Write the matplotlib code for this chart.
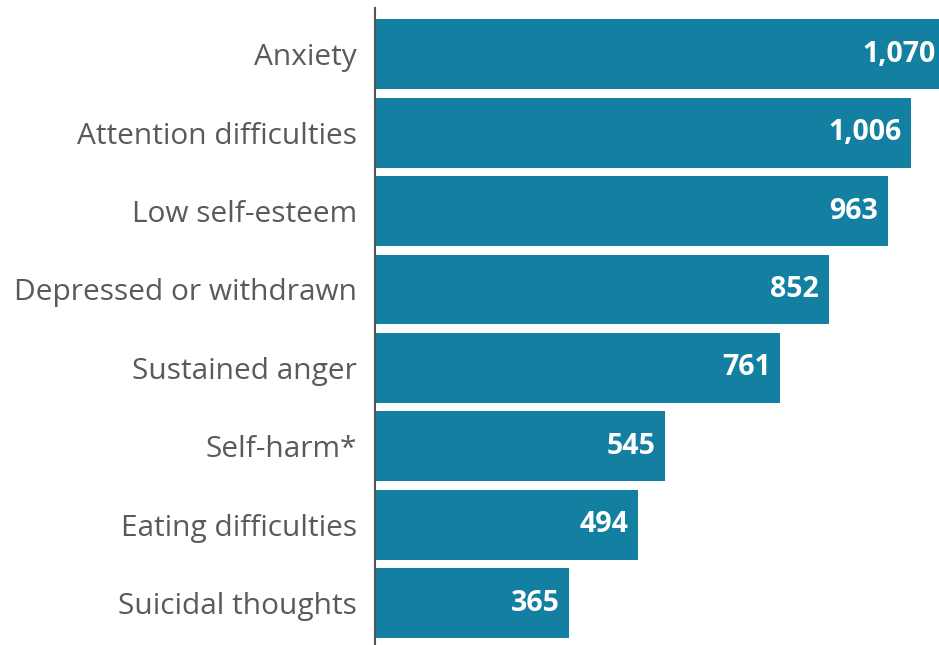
import matplotlib
matplotlib.use("Agg")
import matplotlib.pyplot as plt

categories = ["Anxiety", "Attention difficulties", "Low self-esteem",
              "Depressed or withdrawn", "Sustained anger", "Self-harm*",
              "Eating difficulties", "Suicidal thoughts"]
values = [1070, 1006, 963, 852, 761, 545, 494, 365]
value_labels = ["1,070", "1,006", "963", "852", "761", "545", "494", "365"]

plt.rcParams['font.family'] = ['Open Sans', 'DejaVu Sans']

W, H = 939, 645
fig = plt.figure(figsize=(W / 100, H / 100), dpi=100)
# axes extends a little past the right edge, so the longest bar gets clipped
ax = fig.add_axes([375 / W, 0, 570 / W, 637 / H])

bar_color = "#1380a1"
pos = list(range(len(categories)))
ax.barh(pos, values, height=0.89, color=bar_color, clip_on=False)

ax.set_xlim(0, 1070)
ax.set_ylim(7.535, -0.59)

for i, (v, lab) in enumerate(zip(values, value_labels)):
    ax.annotate(lab, xy=(v, i), xytext=(-7, 0), textcoords="offset points",
                ha="right", va="center", color="white", fontsize=20.5,
                fontweight="bold", annotation_clip=False)

ax.set_yticks(pos)
ax.set_yticklabels(categories, fontsize=21.5, color="#5a5a5a")
ax.tick_params(axis="y", length=0, pad=13)
ax.set_xticks([])

for s in ["top", "right", "bottom"]:
    ax.spines[s].set_visible(False)
ax.spines["left"].set_color("#555555")
ax.spines["left"].set_linewidth(1.5)

fig.savefig("out.png", dpi=100)
